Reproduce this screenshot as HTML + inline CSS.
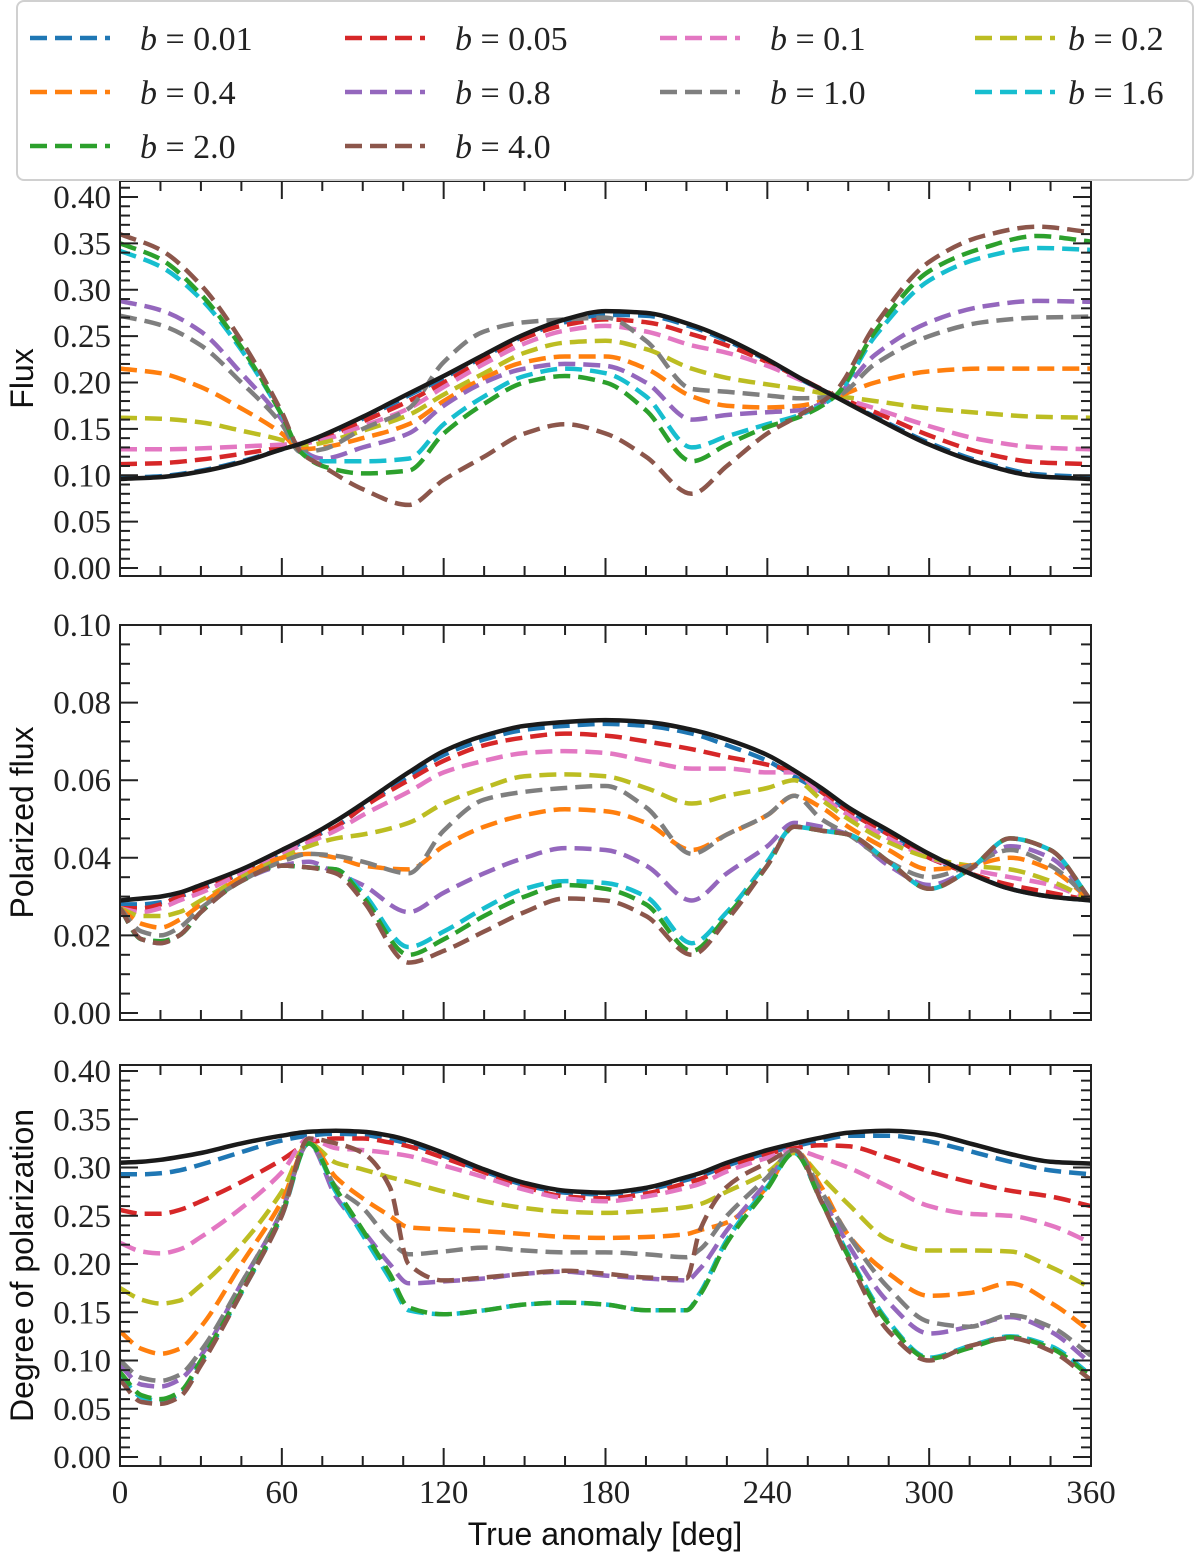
<!DOCTYPE html>
<html><head><meta charset="utf-8"><style>
html,body{margin:0;padding:0;background:#fff;}
svg{display:block;}
</style></head><body>
<svg id="fig" width="1200" height="1560" viewBox="0 0 1200 1560" xmlns="http://www.w3.org/2000/svg">
<defs>
<clipPath id="c1"><rect x="120" y="181" width="971" height="395"/></clipPath>
<clipPath id="c2"><rect x="120" y="625" width="971" height="395"/></clipPath>
<clipPath id="c3"><rect x="120" y="1065" width="971" height="401"/></clipPath>
</defs>
<g id="root"></g>
</svg>
<script>
// ---- data ----
const labels = ["0.01","0.05","0.1","0.2","0.4","0.8","1.0","1.6","2.0","4.0"];
const colors = ["#1f77b4","#d62728","#e377c2","#bcbd22","#ff7f0e","#9467bd","#7f7f7f","#17becf","#2ca02c","#8c564b"];

const fluxX = [0,15,30,45,60,67,75,90,107,120,135,150,165,180,195,212,225,240,252,265,280,300,320,340,360];
const fluxBlack = [0.096,0.098,0.104,0.114,0.128,0.134,0.143,0.163,0.188,0.207,0.23,0.252,0.268,0.277,0.275,0.262,0.247,0.225,0.205,0.185,0.162,0.133,0.112,0.099,0.096];
const flux001 = [0.097,0.099,0.105,0.115,0.128,0.134,0.142,0.161,0.186,0.205,0.228,0.25,0.265,0.273,0.272,0.26,0.245,0.224,0.204,0.185,0.163,0.135,0.114,0.101,0.098];
const flux005 = [0.112,0.113,0.117,0.123,0.13,0.133,0.14,0.158,0.18,0.2,0.225,0.248,0.262,0.268,0.265,0.252,0.24,0.222,0.205,0.186,0.168,0.143,0.124,0.114,0.112];
const flux01 = [0.128,0.128,0.129,0.131,0.133,0.134,0.138,0.153,0.172,0.195,0.22,0.242,0.256,0.261,0.255,0.24,0.232,0.218,0.203,0.186,0.172,0.153,0.138,0.13,0.128];
const flux02 = [0.162,0.161,0.157,0.148,0.138,0.131,0.135,0.148,0.165,0.187,0.21,0.232,0.243,0.245,0.236,0.215,0.205,0.198,0.193,0.186,0.18,0.172,0.167,0.163,0.162];
const flux04 = [0.215,0.21,0.195,0.172,0.145,0.128,0.13,0.14,0.155,0.18,0.205,0.222,0.228,0.228,0.215,0.185,0.175,0.173,0.175,0.184,0.2,0.212,0.215,0.215,0.215];
const flux08 = [0.288,0.278,0.255,0.21,0.16,0.128,0.118,0.13,0.145,0.175,0.2,0.215,0.22,0.218,0.2,0.16,0.165,0.168,0.17,0.185,0.23,0.265,0.282,0.288,0.287];
const flux10 = [0.272,0.262,0.24,0.2,0.155,0.125,0.128,0.15,0.172,0.222,0.255,0.265,0.268,0.27,0.245,0.193,0.19,0.186,0.183,0.185,0.22,0.25,0.265,0.27,0.271];
const flux16 = [0.342,0.325,0.29,0.235,0.165,0.125,0.115,0.115,0.118,0.155,0.185,0.207,0.215,0.21,0.185,0.13,0.142,0.155,0.165,0.185,0.25,0.31,0.335,0.345,0.343];
const flux20 = [0.35,0.333,0.295,0.238,0.165,0.125,0.11,0.102,0.105,0.145,0.177,0.2,0.207,0.2,0.17,0.115,0.133,0.152,0.163,0.185,0.255,0.32,0.345,0.358,0.352];
const flux40 = [0.36,0.343,0.305,0.245,0.168,0.125,0.11,0.085,0.068,0.095,0.12,0.145,0.155,0.145,0.12,0.08,0.11,0.145,0.165,0.19,0.262,0.33,0.358,0.368,0.362];

const polX = [0,8,15,22,30,45,60,70,80,90,107,120,135,150,165,180,195,212,225,240,250,260,270,285,300,315,330,345,360];
const polBlack = [0.029,0.0295,0.030,0.031,0.033,0.037,0.042,0.0455,0.0495,0.054,0.062,0.0675,0.0715,0.074,0.075,0.0755,0.075,0.073,0.0705,0.0665,0.0625,0.058,0.053,0.047,0.041,0.036,0.032,0.030,0.029];
const pol001 = [0.028,0.028,0.0285,0.030,0.032,0.036,0.041,0.045,0.048,0.053,0.061,0.0665,0.0705,0.073,0.074,0.0745,0.074,0.072,0.069,0.065,0.061,0.057,0.052,0.046,0.040,0.036,0.032,0.030,0.029];
const pol005 = [0.027,0.027,0.028,0.030,0.032,0.036,0.042,0.045,0.048,0.053,0.060,0.065,0.069,0.071,0.072,0.0715,0.070,0.068,0.066,0.064,0.062,0.057,0.052,0.046,0.040,0.036,0.033,0.031,0.029];
const pol01 = [0.027,0.026,0.027,0.029,0.031,0.036,0.041,0.044,0.047,0.051,0.057,0.062,0.065,0.067,0.0675,0.067,0.065,0.063,0.063,0.062,0.062,0.056,0.051,0.045,0.040,0.037,0.035,0.033,0.029];
const pol02 = [0.027,0.025,0.025,0.026,0.029,0.035,0.040,0.043,0.045,0.046,0.049,0.054,0.058,0.061,0.0615,0.061,0.058,0.054,0.056,0.058,0.060,0.055,0.050,0.044,0.040,0.038,0.037,0.034,0.029];
const pol04 = [0.027,0.023,0.022,0.024,0.028,0.035,0.040,0.041,0.040,0.038,0.037,0.043,0.048,0.051,0.0525,0.052,0.049,0.042,0.046,0.051,0.056,0.053,0.048,0.042,0.037,0.038,0.040,0.037,0.029];
const pol08 = [0.027,0.019,0.018,0.020,0.026,0.034,0.038,0.039,0.036,0.033,0.026,0.031,0.036,0.040,0.0425,0.042,0.038,0.029,0.036,0.043,0.049,0.048,0.046,0.038,0.033,0.037,0.043,0.040,0.029];
const pol10 = [0.027,0.021,0.020,0.022,0.027,0.034,0.039,0.041,0.0405,0.039,0.036,0.047,0.055,0.057,0.058,0.0585,0.053,0.041,0.046,0.051,0.056,0.050,0.046,0.039,0.035,0.038,0.042,0.038,0.029];
const pol16 = [0.027,0.019,0.0185,0.020,0.026,0.034,0.038,0.0375,0.037,0.031,0.017,0.021,0.027,0.032,0.034,0.0335,0.030,0.018,0.026,0.039,0.048,0.047,0.046,0.039,0.032,0.037,0.045,0.042,0.029];
const pol20 = [0.027,0.019,0.0185,0.020,0.026,0.034,0.038,0.0375,0.037,0.030,0.015,0.019,0.025,0.030,0.033,0.032,0.028,0.016,0.025,0.038,0.048,0.047,0.046,0.039,0.032,0.037,0.045,0.042,0.029];
const pol40 = [0.027,0.019,0.018,0.020,0.026,0.034,0.038,0.0375,0.036,0.029,0.013,0.016,0.021,0.026,0.0295,0.029,0.025,0.015,0.024,0.038,0.048,0.047,0.046,0.039,0.032,0.037,0.045,0.042,0.029];

const dopX = [0,8,15,22,30,45,60,70,80,90,100,107,120,135,150,165,180,195,210,215,225,240,250,260,270,285,300,315,330,345,360];
const dopBlack = [0.305,0.306,0.308,0.311,0.315,0.325,0.333,0.337,0.338,0.337,0.333,0.328,0.315,0.298,0.284,0.276,0.274,0.279,0.29,0.294,0.305,0.318,0.325,0.331,0.336,0.338,0.335,0.325,0.314,0.306,0.304];
const dop001 = [0.293,0.293,0.294,0.297,0.303,0.316,0.328,0.333,0.335,0.334,0.329,0.325,0.312,0.296,0.282,0.274,0.272,0.277,0.287,0.291,0.302,0.315,0.322,0.328,0.333,0.333,0.327,0.317,0.306,0.297,0.293];
const dop005 = [0.256,0.252,0.252,0.256,0.265,0.285,0.308,0.325,0.33,0.33,0.326,0.322,0.31,0.295,0.28,0.27,0.268,0.273,0.284,0.288,0.3,0.314,0.32,0.323,0.322,0.31,0.296,0.285,0.276,0.27,0.26];
const dop01 = [0.222,0.213,0.211,0.215,0.228,0.258,0.295,0.33,0.32,0.318,0.315,0.312,0.302,0.29,0.277,0.268,0.265,0.27,0.279,0.283,0.296,0.31,0.318,0.31,0.3,0.28,0.26,0.252,0.25,0.24,0.222];
const dop02 = [0.175,0.163,0.159,0.162,0.178,0.22,0.275,0.325,0.305,0.298,0.29,0.285,0.275,0.265,0.258,0.254,0.253,0.255,0.259,0.262,0.275,0.295,0.315,0.29,0.262,0.225,0.214,0.214,0.213,0.197,0.175];
const dop04 = [0.13,0.112,0.107,0.112,0.135,0.2,0.265,0.325,0.29,0.268,0.25,0.238,0.236,0.234,0.231,0.228,0.227,0.228,0.231,0.235,0.243,0.28,0.318,0.28,0.23,0.19,0.167,0.17,0.18,0.16,0.13];
const dop08 = [0.095,0.075,0.073,0.08,0.105,0.18,0.255,0.325,0.27,0.235,0.2,0.18,0.182,0.185,0.19,0.192,0.188,0.185,0.183,0.195,0.235,0.285,0.318,0.27,0.22,0.16,0.128,0.135,0.145,0.13,0.097];
const dop10 = [0.1,0.082,0.079,0.085,0.11,0.18,0.255,0.325,0.28,0.258,0.225,0.21,0.213,0.217,0.214,0.212,0.212,0.21,0.207,0.215,0.25,0.29,0.318,0.275,0.23,0.175,0.14,0.135,0.147,0.135,0.105];
const dop16 = [0.085,0.062,0.058,0.065,0.098,0.17,0.25,0.325,0.275,0.23,0.185,0.152,0.148,0.152,0.158,0.16,0.158,0.152,0.152,0.17,0.225,0.28,0.315,0.265,0.21,0.14,0.103,0.115,0.125,0.115,0.085];
const dop20 = [0.088,0.064,0.06,0.067,0.1,0.172,0.252,0.325,0.278,0.235,0.19,0.155,0.148,0.152,0.158,0.16,0.158,0.152,0.152,0.168,0.222,0.278,0.315,0.265,0.208,0.138,0.102,0.113,0.124,0.113,0.083];
const dop40 = [0.08,0.057,0.055,0.062,0.095,0.17,0.25,0.33,0.325,0.315,0.28,0.2,0.183,0.186,0.19,0.193,0.19,0.186,0.185,0.235,0.28,0.305,0.318,0.265,0.205,0.13,0.1,0.115,0.123,0.11,0.08];

const xTicks = [0,60,120,180,240,300,360];
const fluxTicks = ["0.00","0.05","0.10","0.15","0.20","0.25","0.30","0.35","0.40"];
const polTicks = ["0.00","0.02","0.04","0.06","0.08","0.10"];
const dopTicks = ["0.00","0.05","0.10","0.15","0.20","0.25","0.30","0.35","0.40"];

// ---- helpers ----
const NS = "http://www.w3.org/2000/svg";
const root = document.getElementById('root');
function mk(tag, attrs, parent){
  const e = document.createElementNS(NS, tag);
  for (const k in attrs) e.setAttribute(k, attrs[k]);
  (parent||root).appendChild(e);
  return e;
}
const X0 = 120, X1 = 1091;
function xs(d){ return X0 + (X1 - X0) * d / 360; }

function monoPath(px, py){
  const n = px.length;
  const dx = [], s = [];
  for (let i=0;i<n-1;i++){ dx.push(px[i+1]-px[i]); s.push((py[i+1]-py[i])/dx[i]); }
  const m = new Array(n);
  m[0]=s[0]; m[n-1]=s[n-2];
  for (let i=1;i<n-1;i++){
    if (s[i-1]*s[i] <= 0) m[i]=0;
    else { const w1=2*dx[i]+dx[i-1], w2=dx[i]+2*dx[i-1]; m[i]=(w1+w2)/(w1/s[i-1]+w2/s[i]); }
  }
  let d = "M"+px[0].toFixed(1)+","+py[0].toFixed(1);
  for (let i=0;i<n-1;i++){
    const h = dx[i];
    d += " C"+(px[i]+h/3).toFixed(1)+","+(py[i]+m[i]*h/3).toFixed(1)+" "+(px[i+1]-h/3).toFixed(1)+","+(py[i+1]-m[i+1]*h/3).toFixed(1)+" "+px[i+1].toFixed(1)+","+py[i+1].toFixed(1);
  }
  return d;
}

function panel(cfg){
  const g = mk('g', {});
  
  
  const ys = v => cfg.yZero - (cfg.yZero - cfg.yTop) * v / cfg.vTop;
  const sg = mk('g', {'clip-path': 'url(#'+cfg.clip+')'}, g);
  cfg.series.forEach((vals, i) => {
    const p = mk('path', {d: monoPath(cfg.x.map(xs), vals.map(ys)), fill:'none', stroke: colors[i], 'stroke-width': 4.5, 'stroke-dasharray': '17,8'}, sg);
    
    
  });
  const bl = mk('path', {d: monoPath(cfg.x.map(xs), cfg.black.map(ys)), fill:'none', stroke:'#1a1a1a', 'stroke-width': 4.5}, sg);
  
  
  const fr = mk('rect', {x:X0, y:cfg.top, width:X1-X0, height:cfg.bottom-cfg.top, fill:'none', stroke:'#222', 'stroke-width':2}, g);
  
  
  for (let d=0; d<=360; d+=15){
    const L = d%60===0 ? 18 : 10, x = xs(d);
    mk('line', {x1:x, x2:x, y1:cfg.bottom, y2:cfg.bottom-L, stroke:'#222','stroke-width':2}, g);
    mk('line', {x1:x, x2:x, y1:cfg.top, y2:cfg.top+L, stroke:'#222','stroke-width':2}, g);
  }
  const nMinor = Math.round(cfg.vTop / cfg.minor);
  for (let k=0; k<=nMinor+2; k++){
    const v = k*cfg.minor, y = ys(v);
    if (y < cfg.top-0.5) break;
    const major = Math.abs(v/cfg.major - Math.round(v/cfg.major)) < 1e-6;
    const L = major ? 18 : 10;
    mk('line', {x1:X0, x2:X0+L, y1:y, y2:y, stroke:'#222','stroke-width':2}, g);
    mk('line', {x1:X1, x2:X1-L, y1:y, y2:y, stroke:'#222','stroke-width':2}, g);
  }
  cfg.ticks.forEach((t, i) => {
    const y = ys(i*cfg.major);
    const tx = mk('text', {x:111, y:y+11, 'text-anchor':'end', 'font-family':'"Liberation Serif", serif', 'font-size':33, fill:'#222'}, g);
    tx.textContent = t;
    
    
  });
  const cy = (cfg.top + cfg.bottom)/2;
  const yl = mk('text', {x:0, y:0, transform:'translate(33,'+cy+') rotate(-90)', 'text-anchor':'middle', 'font-family':'"Liberation Sans", sans-serif', 'font-size':32, fill:'#111'}, g);
  yl.textContent = cfg.ylabel;
  
  
}

panel({name:'flux-panel', short:'flux', clip:'c1', top:181, bottom:576, yZero:568, yTop:197, vTop:0.40, major:0.05, minor:0.01,
  x:fluxX, black:fluxBlack, series:[flux001,flux005,flux01,flux02,flux04,flux08,flux10,flux16,flux20,flux40], ticks:fluxTicks, ylabel:'Flux'});
panel({name:'polarized-flux-panel', short:'polflux', clip:'c2', top:625, bottom:1020, yZero:1013, yTop:625, vTop:0.10, major:0.02, minor:0.005,
  x:polX, black:polBlack, series:[pol001,pol005,pol01,pol02,pol04,pol08,pol10,pol16,pol20,pol40], ticks:polTicks, ylabel:'Polarized flux'});
panel({name:'degree-of-polarization-panel', short:'dop', clip:'c3', top:1065, bottom:1466, yZero:1457, yTop:1071, vTop:0.40, major:0.05, minor:0.01,
  x:dopX, black:dopBlack, series:[dop001,dop005,dop01,dop02,dop04,dop08,dop10,dop16,dop20,dop40], ticks:dopTicks, ylabel:'Degree of polarization'});

xTicks.forEach(t => {
  const tx = mk('text', {x:xs(t), y:1503, 'text-anchor':'middle', 'font-family':'"Liberation Serif", serif', 'font-size':33, fill:'#222'});
  tx.textContent = String(t);
  
  
});
const xl = mk('text', {x:605, y:1545, 'text-anchor':'middle', 'font-family':'"Liberation Sans", sans-serif', 'font-size':32, fill:'#111'});
xl.textContent = 'True anomaly [deg]';



const lg = mk('g', {});


mk('rect', {x:17, y:1, width:1176, height:179, rx:7, fill:'#fff', 'fill-opacity':0.9, stroke:'#d0d0d0', 'stroke-width':2}, lg);
const colLine = [30, 345, 660, 975];
const colText = [140, 455, 770, 1068];
const rowY = [38, 92, 146];
labels.forEach((lab, i) => {
  const r = Math.floor(i/4), c = i%4;
  const eg = mk('g', {}, lg);
  
  
  mk('line', {x1:colLine[c], x2:colLine[c]+80, y1:rowY[r], y2:rowY[r], stroke:colors[i], 'stroke-width':4.5, 'stroke-dasharray':'17,8'}, eg);
  const t = mk('text', {x:colText[c], y:rowY[r]+12, 'font-family':'"Liberation Serif", serif', 'font-size':34, fill:'#222'}, eg);
  const it = mk('tspan', {'font-style':'italic'}, t);
  it.textContent = 'b';
  const rest = mk('tspan', {}, t);
  rest.textContent = ' = ' + lab;
});
</script>
</body></html>
